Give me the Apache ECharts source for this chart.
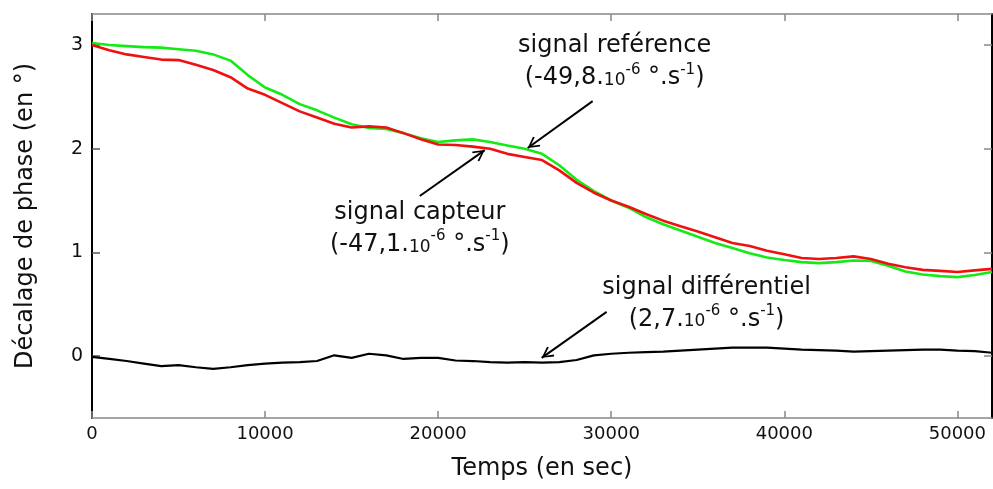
<!DOCTYPE html>
<html><head><meta charset="utf-8">
<script src="https://cdn.jsdelivr.net/npm/echarts@6/dist/echarts.min.js"></script>
<style>html,body{margin:0;padding:0;background:#fff}#c{width:993px;height:489px}</style>
</head><body><div id="c"></div>
<script>
// ---- data ----
const time = [0,1000,2000,3000,4000,5000,6000,7000,8000,9000,10000,11000,12000,13000,14000,15000,16000,17000,18000,19000,20000,21000,22000,23000,24000,25000,26000,27000,28000,29000,30000,31000,32000,33000,34000,35000,36000,37000,38000,39000,40000,41000,42000,43000,44000,45000,46000,47000,48000,49000,50000,51000,52000];
const reference = [3.02,3.00,2.99,2.98,2.975,2.96,2.945,2.91,2.85,2.71,2.59,2.52,2.43,2.37,2.30,2.235,2.20,2.19,2.15,2.10,2.065,2.08,2.09,2.065,2.03,2.00,1.95,1.84,1.70,1.59,1.50,1.43,1.34,1.27,1.21,1.15,1.09,1.04,0.99,0.95,0.925,0.905,0.895,0.905,0.92,0.915,0.87,0.815,0.785,0.77,0.76,0.78,0.81];
const capteur = [3.00,2.95,2.91,2.885,2.86,2.855,2.81,2.76,2.69,2.58,2.52,2.44,2.36,2.30,2.24,2.205,2.215,2.205,2.15,2.09,2.04,2.035,2.02,2.00,1.95,1.92,1.89,1.79,1.67,1.575,1.50,1.44,1.37,1.305,1.25,1.20,1.145,1.09,1.06,1.015,0.98,0.945,0.935,0.945,0.96,0.935,0.89,0.855,0.83,0.82,0.81,0.825,0.84];
const differentiel = [-0.01,-0.03,-0.05,-0.075,-0.10,-0.09,-0.11,-0.125,-0.11,-0.09,-0.075,-0.065,-0.06,-0.05,0.005,-0.02,0.02,0.005,-0.03,-0.02,-0.02,-0.045,-0.05,-0.06,-0.065,-0.06,-0.065,-0.06,-0.04,0.005,0.02,0.03,0.035,0.04,0.05,0.06,0.07,0.08,0.08,0.08,0.07,0.06,0.055,0.05,0.04,0.045,0.05,0.055,0.06,0.06,0.05,0.045,0.03];
const xTicks = [0,10000,20000,30000,40000,50000];
const yTicks = [0,1,2,3];
const xRange = [0, 52000];
const yRange = [-0.6, 3.3];
const xTitle = 'Temps (en sec)';
const yTitle = 'Décalage de phase (en °)';
// annotations: [label, rate mantissa, text anchor (t, v), arrow start (t, v), arrow end (t, v)]
const notes = [
  ['signal reférence', '(-49,8.', [30196, 2.835], [28926, 2.459], [25173, 2.006]],
  ['signal capteur', '(-47,1.', [18938, 1.225], [18938, 1.543], [22691, 1.986]],
  ['signal différentiel', '(2,7.', [35508, 0.506], [29734, 0.424], [25981, -0.019]]
];

const FONT = 'DejaVu Sans';
const pair = (ys) => time.map((t, i) => [t, ys[i]]);
const arrowHead = 'path://M5,0L10,8.5L8.8,9.4L5,2.6L1.2,9.4L0,8.5Z M5,-9.4L5.01,-9.4L5,-9.39Z';

const rich = {
  n: {fontFamily: FONT, fontSize: 24, color: '#111', lineHeight: 32},
  s: {fontFamily: FONT, fontSize: 17, color: '#111', lineHeight: 32, padding: [5, 0, 0, 0]},
  p: {fontFamily: FONT, fontSize: 15, color: '#111', lineHeight: 18, verticalAlign: 'top'}
};

const chart = echarts.init(document.getElementById('c'), null, {renderer: 'canvas'});
const axisGray = '#888';
chart.setOption({
  animation: false,
  backgroundColor: '#fff',
  grid: {left: 92, right: 1, top: 14, bottom: 71, containLabel: false},
  xAxis: [{
    type: 'value', min: xRange[0], max: xRange[1], position: 'bottom',
    name: xTitle, nameLocation: 'middle', nameGap: 39,
    nameTextStyle: {fontFamily: FONT, fontSize: 24, color: '#111'},
    axisLine: {show: true, onZero: false, lineStyle: {color: axisGray, width: 1.5}},
    axisTick: {show: true, inside: true, length: 7, customValues: xTicks, lineStyle: {color: axisGray, width: 1.5}},
    axisLabel: {show: true, customValues: xTicks, margin: 7, fontFamily: FONT, fontSize: 18, color: '#111',
                formatter: v => String(v)},
    splitLine: {show: false}
  }, {
    type: 'value', min: xRange[0], max: xRange[1], position: 'top',
    axisLine: {show: true, onZero: false, lineStyle: {color: axisGray, width: 1.5}},
    axisTick: {show: true, inside: true, length: 7, customValues: xTicks, lineStyle: {color: axisGray, width: 1.5}},
    axisLabel: {show: false}, splitLine: {show: false}
  }],
  yAxis: [{
    type: 'value', min: yRange[0], max: yRange[1], position: 'left',
    name: yTitle, nameLocation: 'middle', nameGap: 54, nameRotate: 90,
    nameTextStyle: {fontFamily: FONT, fontSize: 24, color: '#111'},
    axisLine: {show: true, onZero: false, lineStyle: {color: '#000', width: 2}},
    axisTick: {show: true, inside: true, length: 8, customValues: yTicks, lineStyle: {color: '#555', width: 1.5}},
    axisLabel: {show: true, customValues: yTicks, margin: 9, fontFamily: FONT, fontSize: 19, color: '#111',
                formatter: v => String(v)},
    splitLine: {show: false}
  }, {
    type: 'value', min: yRange[0], max: yRange[1], position: 'right',
    axisLine: {show: true, onZero: false, lineStyle: {color: '#000', width: 2}},
    axisTick: {show: true, inside: true, length: 8, customValues: yTicks, lineStyle: {color: axisGray, width: 1.5}},
    axisLabel: {show: false}, splitLine: {show: false}
  }],
  series: [
    {name: 'référence', type: 'line', data: pair(reference), showSymbol: false, symbol: 'none',
     lineStyle: {color: '#14ea14', width: 2.6}, z: 2},
    {name: 'capteur', type: 'line', data: pair(capteur), showSymbol: false, symbol: 'none',
     lineStyle: {color: '#f01010', width: 2.6}, z: 3},
    {name: 'différentiel', type: 'line', data: pair(differentiel), showSymbol: false, symbol: 'none',
     lineStyle: {color: '#000', width: 2.2}, z: 4,
     markLine: {
       silent: true, symbol: ['none', arrowHead], symbolSize: [12, 24],
       lineStyle: {color: '#000', width: 2, type: 'solid'}, label: {show: false},
       data: notes.map(n => [{coord: n[3]}, {coord: n[4]}])
     },
     markPoint: {
       silent: true, symbol: 'circle', symbolSize: 1, itemStyle: {color: 'rgba(0,0,0,0)'},
       data: notes.map(n => ({
         coord: n[2],
         label: {
           show: true, position: 'inside', align: 'center', verticalAlign: 'middle',
           formatter: '{n|' + n[0] + '}\n{n|' + n[1] + '}{s|10}{p|-6}{n| °.s}{p|-1}{n|)}',
           rich: rich
         }
       }))
     }}
  ]
});
</script></body></html>
